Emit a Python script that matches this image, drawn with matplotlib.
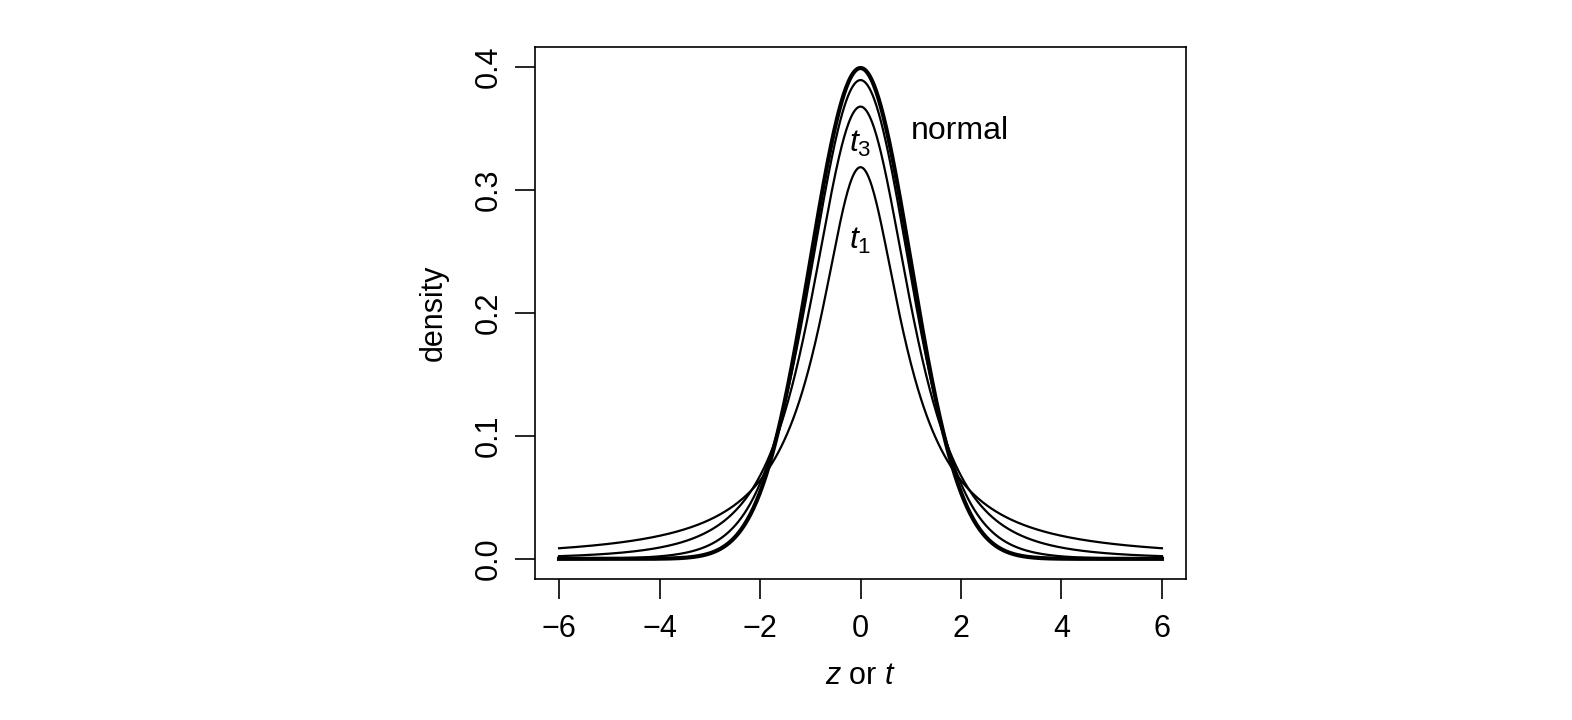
import math
import numpy as np
import matplotlib
matplotlib.use("Agg")
import matplotlib.pyplot as plt

plt.rcParams['font.family'] = ['Liberation Sans', 'DejaVu Sans']
plt.rcParams['mathtext.fontset'] = 'custom'
plt.rcParams['mathtext.rm'] = 'Liberation Sans'
plt.rcParams['mathtext.it'] = 'Liberation Sans:italic'

# data: the curves are the standard normal and t densities with these degrees of freedom
t_dfs = [1, 3, 10]
x_min, x_max = -6, 6
x_ticks = [-6, -4, -2, 0, 2, 4, 6]
y_ticks = [0.0, 0.1, 0.2, 0.3, 0.4]
y_tick_labels = ['0.0', '0.1', '0.2', '0.3', '0.4']

x = np.linspace(x_min, x_max, 801)


def t_density(v, df):
    c = math.gamma((df + 1) / 2) / (math.sqrt(df * math.pi) * math.gamma(df / 2))
    return c * (1 + v ** 2 / df) ** (-(df + 1) / 2)


normal = np.exp(-x ** 2 / 2) / math.sqrt(2 * math.pi)

fig = plt.figure(figsize=(15.72, 7.2), dpi=100)
ax = fig.add_axes([0.3403, 0.1965, 0.4142, 0.7382])

for df in t_dfs:
    ax.plot(x, t_density(x, df), color='black', linewidth=1.6)
ax.plot(x, normal, color='black', linewidth=3.0)

# R-style 4% padding
xr = x_max - x_min
ax.set_xlim(x_min - 0.04 * xr, x_max + 0.04 * xr)
ax.set_ylim(-0.016, 0.416)

fs = 22
ax.set_xticks(x_ticks)
ax.set_xticklabels([f'\u2212{abs(v)}' if v < 0 else str(v) for v in x_ticks])
ax.set_yticks(y_ticks)
ax.set_yticklabels(y_tick_labels, rotation=90, va='center')
ax.tick_params(axis='both', length=14.5, width=1.2, labelsize=fs, direction='out')
ax.tick_params(axis='x', pad=11)
ax.tick_params(axis='y', pad=8)
for s in ax.spines.values():
    s.set_linewidth(1.2)

ax.set_xlabel(r'$z$ or $t$', fontsize=fs, labelpad=12)
ax.set_ylabel('density', fontsize=fs, labelpad=18)

ax.text(1.0, 0.348, 'normal', fontsize=23, ha='left', va='center')
ax.text(0.0, 0.337, r'$t_3$', fontsize=23, ha='center', va='center')
ax.text(0.0, 0.258, r'$t_1$', fontsize=23, ha='center', va='center')

fig.savefig('out.png', dpi=100)
